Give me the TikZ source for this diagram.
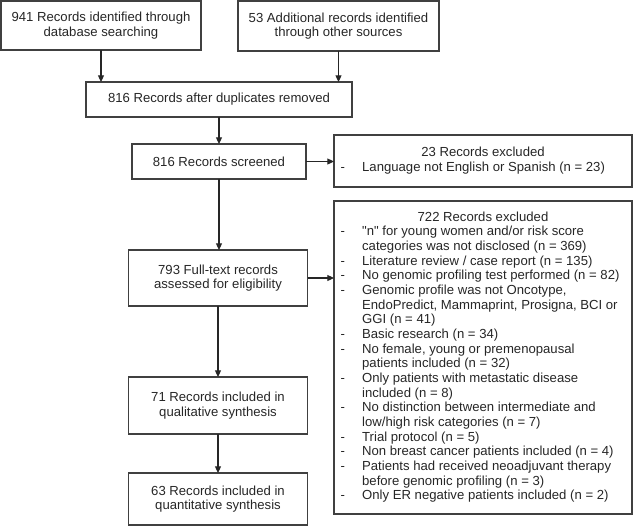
\documentclass[tikz,border=0pt]{standalone}
\usepackage{fontspec}
\setmainfont{Liberation Sans}
\newfontfamily\arialf{Liberation Sans}
\usetikzlibrary{arrows.meta}
\begin{document}
\begin{tikzpicture}[x=0.75pt,y=-0.75pt,
  box/.style={draw=black!75, line width=0.8pt, inner sep=0pt, outer sep=0pt,
    align=center, font=\arialf\fontsize{9.85pt}{11pt}\selectfont, text=black!85},
  arr/.style={draw=black!85, line width=0.8pt, -{Triangle[length=5pt,width=4.5pt]}}]
\useasboundingbox (0,0) rectangle (633,526);
\node[box, minimum width=150pt, minimum height=36.75pt] (A) at (101,25.5)
  {941 Records identified through\\database searching};
\node[box, minimum width=150.75pt, minimum height=37.5pt] (B) at (338.5,26)
  {53 Additional records identified\\through other sources};
\node[box, minimum width=199.5pt, minimum height=26.25pt] (C) at (219,99.5)
  {816 Records after duplicates removed};
\node[box, minimum width=130.5pt, minimum height=26.25pt] (D) at (219,161.5)
  {816 Records screened};
\node[box, minimum width=223.5pt, minimum height=39pt] (E) at (483,161)
  {\begin{tabular}{@{}p{18.75pt}@{}l@{}}
   \multicolumn{2}{c}{23 Records excluded}\\
   \hspace{2.5pt}- & \makebox[200pt][l]{Language not English or Spanish (n = 23)}
   \end{tabular}};
\node[box, minimum width=223.5pt, minimum height=234.75pt] (F) at (483,357.5)
  {\begin{tabular}{@{}p{18.75pt}@{}l@{}}
   \multicolumn{2}{c}{722 Records excluded}\\
   \hspace{2.5pt}- & "n" for young women and/or risk score\\
    & categories was not disclosed (n = 369)\\
   \hspace{2.5pt}- & Literature review / case report (n = 135)\\
   \hspace{2.5pt}- & \makebox[200pt][l]{No genomic profiling test performed (n = 82)}\\
   \hspace{2.5pt}- & Genomic profile was not Oncotype,\\
    & EndoPredict, Mammaprint, Prosigna, BCI or\\
    & GGI (n = 41)\\
   \hspace{2.5pt}- & Basic research (n = 34)\\
   \hspace{2.5pt}- & No female, young or premenopausal\\
    & patients included (n = 32)\\
   \hspace{2.5pt}- & Only patients with metastatic disease\\
    & included (n = 8)\\
   \hspace{2.5pt}- & No distinction between intermediate and\\
    & low/high risk categories (n = 7)\\
   \hspace{2.5pt}- & Trial protocol (n = 5)\\
   \hspace{2.5pt}- & Non breast cancer patients included (n = 4)\\
   \hspace{2.5pt}- & Patients had received neoadjuvant therapy\\
    & before genomic profiling (n = 3)\\
   \hspace{2.5pt}- & Only ER negative patients included (n = 2)
   \end{tabular}};
\node[box, minimum width=134.25pt, minimum height=42pt] (G) at (218,278)
  {793 Full-text records\\assessed for eligibility};
\node[box, minimum width=134.25pt, minimum height=42.75pt] (H) at (218,405.5)
  {71 Records included in\\qualitative synthesis};
\node[box, minimum width=134.25pt, minimum height=39pt] (I) at (218,499)
  {63 Records included in\\quantitative synthesis};
\draw[arr] (A.south) -- (A.south |- C.north);
\draw[arr] (B.south) -- (B.south |- C.north);
\draw[arr] (C.south) -- (C.south |- D.north);
\draw[arr] (D.east) -- (D.east -| E.west);
\draw[arr] (D.south) -- (D.south |- G.north);
\draw[arr] (G.east) -- (G.east -| F.west);
\draw[arr] (G.south) -- (H.north);
\draw[arr] (H.south) -- (I.north);
\end{tikzpicture}
\end{document}
